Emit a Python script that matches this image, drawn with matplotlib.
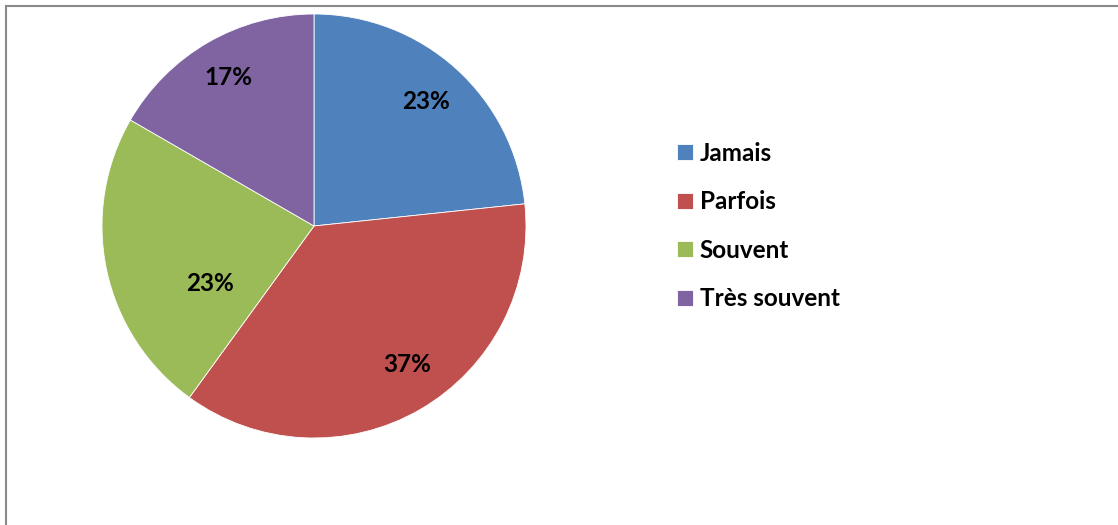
import numpy as np
import matplotlib.pyplot as plt
from matplotlib.lines import Line2D

plt.rcParams['font.family'] = ['Lato', 'DejaVu Sans']

# answers counted per category (shares 7/30, 11/30, 7/30, 5/30)
labels = ["Jamais", "Parfois", "Souvent", "Très souvent"]
counts = [7, 11, 7, 5]
colors = ["#4F81BD", "#C0504D", "#9BBB59", "#8064A2"]

# percent label placement: (radius fraction, angle shift in degrees)
label_place = [(0.79, 0), (0.79, 4), (0.56, 17), (0.81, 0)]

W, H = 1118, 525
fig = plt.figure(figsize=(W / 100, H / 100), dpi=100)

# pie axes placed in pixels: centre (314, 226), radius 212
ax = fig.add_axes([102 / W, (H - 438) / H, 424 / W, 424 / H])
wedges, texts, autotexts = ax.pie(
    counts, colors=colors, startangle=90, counterclock=False,
    autopct=lambda p: "%d%%" % round(p), pctdistance=0.79,
    wedgeprops=dict(edgecolor="white", linewidth=0.6),
    textprops=dict(fontsize=17.5, fontweight="bold", color="black"),
)
for w, t, (r, shift) in zip(wedges, autotexts, label_place):
    mid = np.deg2rad((w.theta1 + w.theta2) / 2 + shift)
    t.set_position((r * np.cos(mid), r * np.sin(mid)))

ax.set_xlim(-1, 1)
ax.set_ylim(-1, 1)
ax.set_aspect("equal")
ax.axis("off")

leg = fig.legend(wedges, labels, loc="center left",
                 bbox_to_anchor=(655 / W, 1 - 226 / H),
                 frameon=False, handlelength=0.65, handleheight=0.65,
                 handletextpad=0.3, labelspacing=1.05,
                 prop=dict(size=17.5, weight="bold"))

# chart frame (left and top edges only visible)
fig.add_artist(Line2D([5.5 / W, 5.5 / W], [0, 1 - 5.5 / H],
                      color="#8a8a8a", lw=1.5, transform=fig.transFigure))
fig.add_artist(Line2D([5.5 / W, 1], [1 - 5.5 / H, 1 - 5.5 / H],
                      color="#8a8a8a", lw=1.5, transform=fig.transFigure))

fig.savefig("out.png", dpi=100)
